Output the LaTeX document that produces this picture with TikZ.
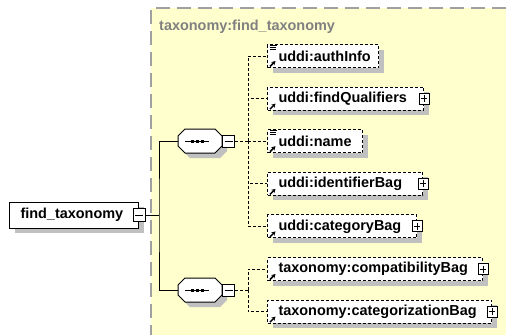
\documentclass[tikz,border=0pt]{standalone}
\usepackage{fontspec}
\setmainfont{Liberation Sans}
\usetikzlibrary{arrows.meta}
\definecolor{bgyellow}{RGB}{255,255,206}
\definecolor{bordergray}{RGB}{160,160,160}
\definecolor{titlegray}{RGB}{128,128,128}
\definecolor{shadowgray}{RGB}{192,192,192}
\tikzset{
  lbl/.style={font=\fontsize{14.5}{16}\selectfont\bfseries},
  shad/.style={preaction={draw=none,fill=shadowgray,transform canvas={xshift=5bp,yshift=-5bp}}},
  elem/.style={lbl, draw, fill=white, shad, dash pattern=on 3bp off 2bp, line width=1bp, anchor=west, minimum height=23bp, inner xsep=11bp, inner ysep=0pt, align=left},
  root/.style={lbl, draw, fill=white, shad, line width=1bp, anchor=west, minimum height=26bp, inner xsep=11bp, inner ysep=0pt, align=left},
  expbox/.style={draw, fill=white, solid, line width=1bp, minimum width=10bp, minimum height=11bp, inner sep=0pt},
  plusbox/.style={expbox, path picture={
      \draw[line width=1bp] ([xshift=2bp]path picture bounding box.west) -- ([xshift=-2bp]path picture bounding box.east);
      \draw[line width=1bp] ([yshift=-2bp]path picture bounding box.north) -- ([yshift=2bp]path picture bounding box.south);}},
  minusbox/.style={expbox, minimum width=12bp, minimum height=12bp, path picture={
      \draw[line width=1bp] ([xshift=2bp]path picture bounding box.west) -- ([xshift=-2bp]path picture bounding box.east);}},
  seqbox/.style={minimum width=44bp, minimum height=24bp, inner sep=0pt},
  conn/.style={line width=1bp},
  optconn/.style={line width=1bp, dash pattern=on 3bp off 2bp},
  arr/.style={line width=1.5bp, -{Stealth[length=4bp,width=4.5bp]}},
  seqshape/.pic={
    \fill[shadowgray] (-17,0) -- (-10,-7) -- (20,-7) -- (27,0) -- (27,10) -- (20,17) -- (-10,17) -- (-17,10) -- cycle;
    \draw[line width=1bp, fill=white] (-22,-5) -- (-15,-12) -- (15,-12) -- (22,-5) -- (22,5) -- (15,12) -- (-15,12) -- (-22,5) -- cycle;
    \draw[line width=1bp] (-15,0) -- (9,0);
    \fill (-9.5,-1.5) rectangle (-6.5,1.5);
    \fill (-4.5,-1.5) rectangle (-1.5,1.5);
    \fill (0.5,-1.5) rectangle (3.5,1.5);
  },
}
\begin{document}
\begin{tikzpicture}[x=1bp,y=-1bp]
\useasboundingbox (0,0) rectangle (506,335);
% complex type background
\fill[bgyellow] (151,8) rectangle (506,335);
\draw[bordergray, line width=1.2bp, dash pattern=on 14bp off 7bp] (506,8) -- (151,8) -- (151,335);
\node[lbl, text=titlegray, anchor=base west, inner sep=0pt] (ttl) at (159,30) {taxonomy:find\_taxonomy};

% root element
\node[root, text width=107bp] (ft) at (9,215) {find\_taxonomy};
\node[minusbox, minimum height=13bp] (ftm) at (ft.east) {};

% sequences
\node[seqbox] (s1) at (200,141) {};
\pic at (200,141) {seqshape};
\node[minusbox, anchor=west] (s1m) at (s1.east) {};
\node[seqbox] (s2) at (200,290) {};
\pic at (200,290) {seqshape};
\node[minusbox, anchor=west] (s2m) at (s2.east) {};

% child elements
\node[elem, text width=89bp] (ai) at (267,56) {uddi:authInfo};
\node[elem, text width=134bp] (fq) at (267,98.6) {uddi:findQualifiers};
\node[plusbox] (fqp) at (fq.east) {};
\node[elem, text width=73bp] (nm) at (267,141.2) {uddi:name};
\node[elem, text width=133bp] (ib) at (267,183.8) {uddi:identifierBag};
\node[plusbox] (ibp) at (ib.east) {};
\node[elem, text width=127bp] (cb) at (267,226.4) {uddi:categoryBag};
\node[plusbox] (cbp) at (cb.east) {};
\node[elem, text width=193bp] (comp) at (267,269) {taxonomy:compatibilityBag};
\node[plusbox] (compp) at (comp.east) {};
\node[elem, text width=202bp] (cat) at (267,311.6) {taxonomy:categorizationBag};
\node[plusbox] (catp) at (cat.east) {};

% icons
\foreach \n in {ai,nm} {
  \draw[line width=1bp] ([xshift=3bp,yshift=-1.5bp]\n.north west) -- ++(7bp,0);
  \draw[line width=1bp] ([xshift=3bp,yshift=-3.5bp]\n.north west) -- ++(6bp,0);
  \draw[line width=1bp] ([xshift=3bp,yshift=-5.5bp]\n.north west) -- ++(6bp,0);
}
\foreach \n in {ai,fq,nm,ib,cb,comp,cat} {
  \draw[arr] ([xshift=3bp,yshift=1.5bp]\n.south west) -- ++(5.5bp,5.5bp);
}

% connectors
\coordinate (j) at (159,215);
\draw[conn] (ftm.east) -- (j);
\draw[conn] (s1.west) -| (j) |- (s2.west);
\coordinate (d1) at (248,141);
\draw[optconn] (s1m.east) -- (d1);
\foreach \n in {ai,fq,nm,ib,cb} { \draw[optconn] (d1) |- (\n.west); }
\coordinate (d2) at (248,290);
\draw[optconn] (s2m.east) -- (d2);
\foreach \n in {comp,cat} { \draw[optconn] (d2) |- (\n.west); }
\end{tikzpicture}
\end{document}
